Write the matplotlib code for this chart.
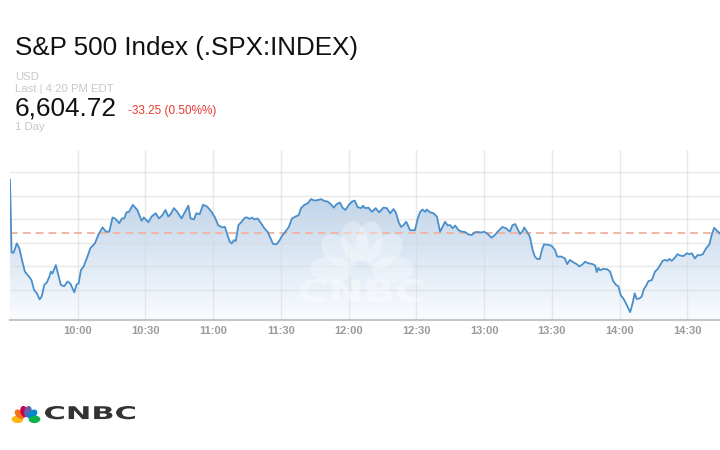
#coding:utf-8
# S&P 500 intraday chart, CNBC style
import numpy as np
import matplotlib
matplotlib.use('Agg')
import matplotlib.pyplot as plt
from matplotlib.transforms import Affine2D
from matplotlib.patches import Ellipse, Polygon, PathPatch
from matplotlib.textpath import TextPath
from matplotlib.font_manager import FontProperties

plt.rcParams['font.family'] = ['Liberation Sans', 'DejaVu Sans']

# minutes after 9:30 and index level
minutes = [0.0, 0.7, 1.6, 3.0, 4.1, 5.5, 6.6, 8.5, 9.5, 10.7, 11.9, 13.1, 14.0, 15.2, 16.3, 17.4, 18.1, 18.8, 20.3, 21.4,
           22.5, 24.0, 25.5, 26.7, 28.5, 29.5, 30.4, 31.4, 32.6, 34.0, 35.6, 37.6, 39.1, 41.0, 42.5, 44.0, 45.4, 46.5, 48.4, 49.6,
           50.6, 51.6, 52.7, 54.4, 56.4, 58.3, 59.3, 61.3, 62.7, 64.5, 66.0, 67.5, 68.9, 70.1, 71.1, 72.6, 74.1, 76.0, 77.5, 79.0,
           80.0, 81.5, 82.5, 84.0, 85.5, 87.4, 89.3, 90.8, 92.3, 94.1, 95.2, 96.3, 97.3, 98.2, 99.2, 100.0, 101.2, 102.6, 104.1,
           105.0, 106.2, 107.2, 108.3, 109.7, 111.2, 112.7, 114.2, 115.3, 116.5, 118.0, 119.2, 120.5, 122.0, 123.5, 124.9, 126.4,
           127.9, 128.9, 130.4, 131.9, 133.3, 134.9, 136.3, 137.8, 139.3, 140.7, 142.2, 143.4, 144.6, 146.1, 147.3, 148.6, 150.1,
           151.5, 152.7, 154.0, 155.5, 156.4, 157.3, 158.8, 160.3, 162.0, 163.5, 165.4, 166.9, 168.4, 169.9, 170.9, 172.1, 173.2,
           174.3, 175.5, 177.2, 179.4, 180.6, 181.7, 182.7, 183.9, 184.6, 186.1, 187.6, 189.1, 190.5, 191.6, 192.7, 193.9, 195.0,
           196.0, 197.2, 198.7, 200.2, 201.6, 203.1, 204.6, 206.0, 207.6, 208.7, 209.9, 211.4, 213.3, 214.8, 216.2, 218.2, 219.7,
           221.4, 222.6, 223.8, 224.7, 225.9, 227.1, 227.8, 229.1, 230.3, 231.5, 232.5, 233.5, 234.7, 235.5, 236.5, 238.4, 239.9,
           241.4, 242.4, 244.3, 245.8, 246.8, 248.0, 249.5, 251.0, 252.2, 253.7, 254.7, 256.1, 258.1, 259.2, 259.9, 260.6, 261.3,
           262.8, 264.6, 265.8, 267.2, 268.4, 269.5, 270.5, 271.7, 273.2, 274.7, 275.8, 276.7, 277.6, 278.8, 279.8, 280.8, 282.0,
           282.8, 284.3, 285.7, 286.8, 288.0, 289.1, 290.1, 291.2, 292.0, 293.1, 294.6, 295.6, 297.1, 298.3, 299.8, 300.9, 302.0,
           303.4, 304.5, 305.7, 306.9, 307.9, 308.9, 309.8, 310.8, 311.9, 313.0, 314.5]
prices = [6643.4, 6628.0, 6627.9, 6629.9, 6628.9, 6626.0, 6623.9, 6622.8, 6622.1, 6620.0, 6619.3, 6618.0, 6618.6, 6621.1,
          6621.6, 6622.8, 6623.9, 6623.5, 6625.3, 6623.2, 6621.1, 6620.8, 6621.8, 6621.4, 6619.5, 6621.2, 6621.4, 6624.2,
          6625.0, 6626.7, 6628.9, 6629.9, 6631.7, 6633.3, 6632.4, 6632.4, 6635.4, 6635.2, 6634.2, 6635.2, 6635.2, 6636.5,
          6636.6, 6638.1, 6637.0, 6634.7, 6635.4, 6634.4, 6635.6, 6636.3, 6635.2, 6635.9, 6637.0, 6635.6, 6636.1, 6637.4,
          6636.6, 6635.2, 6636.6, 6637.9, 6635.2, 6635.0, 6636.3, 6636.1, 6638.1, 6637.7, 6636.6, 6635.4, 6633.7, 6633.3,
          6633.4, 6631.7, 6630.3, 6629.9, 6630.6, 6630.4, 6633.8, 6634.5, 6635.4,
          6635.4, 6635.1, 6635.4, 6635.0, 6635.2, 6634.2, 6633.1, 6632.3, 6631.1, 6629.8, 6629.7, 6630.4, 6631.5, 6632.4,
          6633.4, 6635.2, 6635.6, 6635.9, 6637.4, 6638.1, 6638.4, 6639.3, 6639.0, 6639.1, 6639.3, 6638.9, 6638.8, 6638.2,
          6637.5, 6638.2, 6638.6, 6637.5, 6637.0, 6638.1, 6638.8, 6639.0, 6637.6, 6637.4, 6637.9,
          6637.4, 6637.5, 6636.6, 6637.4, 6636.5, 6637.5, 6637.4, 6636.3, 6637.2, 6636.5, 6634.5, 6633.4, 6633.8, 6634.5,
          6632.7, 6632.7, 6635.2, 6636.6, 6637.1, 6636.6, 6637.1, 6636.5, 6636.3, 6635.6, 6632.4, 6633.4, 6634.5, 6633.7,
          6633.8, 6633.1, 6633.7, 6632.7, 6632.4, 6632.3, 6631.8, 6631.7, 6632.3, 6632.3, 6632.2,
          6632.4, 6632.0, 6631.1, 6631.7, 6632.5, 6633.4, 6633.1, 6632.4, 6633.8, 6634.0, 6633.1, 6631.9, 6632.5, 6633.3,
          6632.3, 6631.3, 6628.5, 6627.1, 6626.6, 6626.6, 6628.3, 6629.7, 6629.6, 6629.4, 6628.5, 6627.1, 6627.1, 6626.7,
          6625.5, 6626.4, 6625.9, 6625.5, 6625.0, 6625.5, 6626.0, 6625.7, 6625.5, 6625.2, 6623.8, 6624.7,
          6624.2, 6624.5, 6624.4, 6623.9, 6621.9, 6621.1, 6620.8, 6618.9, 6618.2, 6616.8, 6615.3, 6617.2, 6619.3, 6618.1,
          6618.2, 6618.6, 6620.2, 6621.1, 6621.9, 6622.1, 6623.9, 6624.4, 6625.3, 6626.2, 6626.4, 6626.2, 6626.6, 6626.2,
          6626.9, 6627.6, 6627.3, 6627.2, 6627.8, 6627.6, 6627.8, 6626.7, 6627.4, 6627.4, 6627.6, 6628.5, 6629.2, 6629.7,
          6631.7, 6633.2, 6632.7, 6632.0]
prev_close = 6632.2
grid_levels = [6620, 6625, 6630, 6635, 6640, 6645]
tick_minutes = [30, 60, 90, 120, 150, 180, 210, 240, 270, 300]
tick_labels = ['10:00', '10:30', '11:00', '11:30', '12:00', '12:30', '13:00', '13:30', '14:00', '14:30']

W, H = 720, 450
fig = plt.figure(figsize=(7.2, 4.5), dpi=100)
fig.patch.set_facecolor('white')
# pixel coords measured from the top-left corner
pix = Affine2D().scale(1, -1).translate(0, H)

ax = fig.add_axes([10 / W, 1 - 320 / H, 710 / W, 170 / H])
ylo, yhi = 6613.63, 6649.74
ax.set_xlim(0, 314.5)
ax.set_ylim(ylo, yhi)

# gradient fill under the line
t = np.linspace(0, 1, 256).reshape(-1, 1, 1)
top = np.array([170, 197, 225]) / 255.0
bot = np.array([250, 252, 255]) / 255.0
grad = top * (1 - t) + bot * t
im = ax.imshow(grad, extent=[0, 314.5, ylo, yhi], aspect='auto', origin='upper', zorder=1)
verts = list(zip(minutes, prices)) + [(minutes[-1], ylo), (minutes[0], ylo)]
clip = Polygon(verts, closed=True, facecolor='none', edgecolor='none', transform=ax.transData)
ax.add_patch(clip)
im.set_clip_path(clip)

for g in grid_levels:
    ax.axhline(g, color='#d8d8d8', lw=1, alpha=0.55, zorder=1.5)
for m in tick_minutes:
    ax.axvline(m, color='#d8d8d8', lw=1, alpha=0.55, zorder=1.5)

ax.axhline(prev_close, color='#f0b6a4', lw=1.4, dashes=(4, 2.6), zorder=2)
ax.plot(minutes, prices, color='#4a8fcb', lw=1.3, zorder=4)


def wide_text(s, x0, ytop, w, h, color, alpha, zorder, target):
    tp = TextPath((0, 0), s, size=10, prop=FontProperties(family='DejaVu Sans', weight='bold'))
    bb = tp.get_extents()
    tr = (Affine2D().translate(-bb.x0, -bb.y0).scale(w / bb.width, h / bb.height)
          .translate(x0, H - ytop - h))
    p = PathPatch(tp, transform=tr, facecolor=color, edgecolor='none', alpha=alpha, zorder=zorder)
    target.add_artist(p)


def peacock(cx, cy, s, colors, alpha, zorder, target):
    angles = [176, 138, 103, 77, 42, 4]
    for a, c in zip(angles, colors):
        r = np.radians(a)
        ex = cx + 8.6 * s * np.cos(r)
        ey = (H - cy) + 8.6 * s * np.sin(r)
        e = Ellipse((ex, ey), 11.5 * s, 7.4 * s, angle=a, facecolor=c, edgecolor='none',
                    alpha=alpha, zorder=zorder, transform=Affine2D())
        target.add_artist(e)


# faint watermark inside the chart
peacock(362, 272, 3.6, ['white'] * 6, 0.3, 3, ax)
wide_text('CNBC', 300, 279, 123, 23, 'white', 0.4, 3, ax)

ax.set_xticks(tick_minutes)
ax.set_xticklabels(tick_labels)
ax.set_yticks([])
ax.tick_params(axis='x', length=0, pad=4, labelsize=8, labelcolor='#9a9a9a')
for lab in ax.get_xticklabels():
    lab.set_fontweight('bold')
for side in ['top', 'left', 'right']:
    ax.spines[side].set_visible(False)
ax.spines['bottom'].set_color('#c5c5c5')
ax.spines['bottom'].set_linewidth(1.5)

# header texts
fig.text(15, 55, 'S&P 500 Index (.SPX:INDEX)', transform=pix, fontsize=18.7, color='#111111', va='baseline')
fig.text(15, 79.5, 'USD', transform=pix, fontsize=8.2, color='#c8c8c8', va='baseline')
fig.text(15, 92.5, 'Last | 4:20 PM EDT', transform=pix, fontsize=8.2, color='#c8c8c8', va='baseline')
fig.text(15, 115.5, '6,604.72', transform=pix, fontsize=18.8, color='#111111', va='baseline')
fig.text(128, 114.0, '-33.25 (0.50%%)', transform=pix, fontsize=8.5, color='#e8382f', va='baseline')
fig.text(15, 130.5, '1 Day', transform=pix, fontsize=8.2, color='#c8c8c8', va='baseline')

# CNBC logo bottom left
peacock(26, 420, 1.0, ['#fcb711', '#f37021', '#cc004c', '#6460aa', '#0089d0', '#0db14b'], 1.0, 5, fig)
wide_text('CNBC', 45, 406, 90, 13.3, '#333333', 1.0, 5, fig)

fig.savefig('out.png', dpi=100)
